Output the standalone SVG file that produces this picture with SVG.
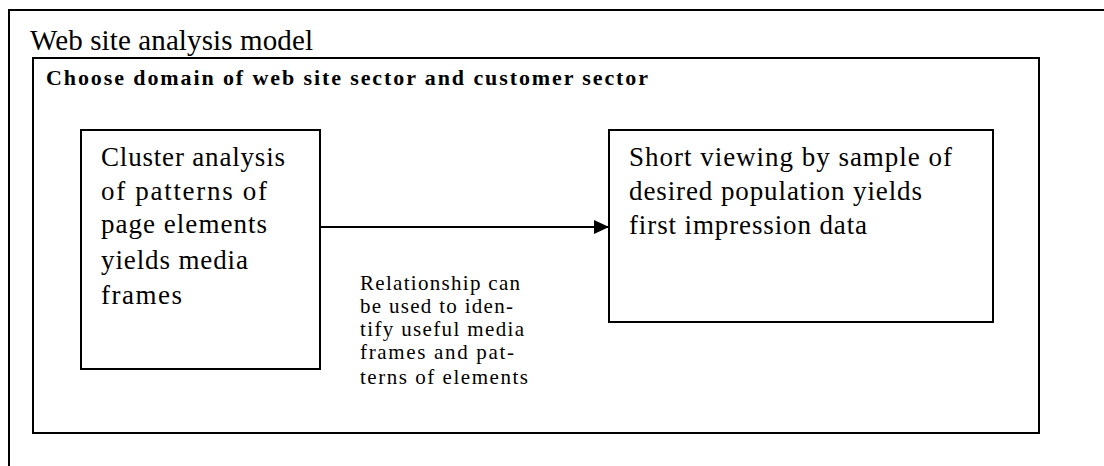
<svg xmlns="http://www.w3.org/2000/svg" width="1104" height="466" viewBox="0 0 1104 466">
<defs>
<style>
.box{fill:#fff;stroke:#000;stroke-width:2}
.frame{fill:none;stroke:#000;stroke-width:2}
.t{font-family:"Liberation Serif","Times New Roman",serif;fill:#000}
.title{font-size:29px}
.big{font-size:27px}
.lbl{font-size:21px}
.hd{font-size:22px;font-weight:bold}
.conn{stroke:#000;stroke-width:2;fill:none}
</style>
<marker id="ah" markerWidth="15" markerHeight="14" refX="15" refY="7" orient="auto" markerUnits="userSpaceOnUse">
<path d="M0,0 L15,7 L0,14 Z" fill="#000"/>
</marker>
</defs>
<rect width="1104" height="466" fill="#fff"/>
<g id="outer">
<path class="frame" d="M9,466 V10 H1104"/>
<text class="t title" x="30" y="50" textLength="283" lengthAdjust="spacing">Web site analysis model</text>
</g>
<g id="domain">
<rect class="frame" x="33" y="58" width="1006" height="375"/>
<text class="t hd" x="46" y="85" textLength="602" lengthAdjust="spacing">Choose domain of web site sector and customer sector</text>
</g>
<g id="cluster">
<rect class="box" x="81" y="130" width="239" height="239"/>
<text class="t big" x="101" y="166" textLength="184" lengthAdjust="spacing">Cluster analysis</text>
<text class="t big" x="101" y="200" textLength="166" lengthAdjust="spacing">of  patterns of</text>
<text class="t big" x="101" y="233" textLength="166" lengthAdjust="spacing">page elements</text>
<text class="t big" x="101" y="269" textLength="147" lengthAdjust="spacing">yields media</text>
<text class="t big" x="101" y="304" textLength="81" lengthAdjust="spacing">frames</text>
</g>
<g id="viewing">
<rect class="box" x="609" y="130" width="384" height="192"/>
<text class="t big" x="629" y="166" textLength="323" lengthAdjust="spacing">Short viewing by sample of</text>
<text class="t big" x="629" y="200" textLength="293" lengthAdjust="spacing">desired population yields</text>
<text class="t big" x="629" y="234" textLength="238" lengthAdjust="spacing">first impression data</text>
</g>
<g id="connectors">
<line class="conn" x1="320" y1="227" x2="609" y2="227" marker-end="url(#ah)"/>
<text class="t lbl" x="360" y="290" textLength="160" lengthAdjust="spacing">Relationship can</text>
<text class="t lbl" x="360" y="313" textLength="153" lengthAdjust="spacing">be used to iden-</text>
<text class="t lbl" x="360" y="336" textLength="164" lengthAdjust="spacing">tify useful media</text>
<text class="t lbl" x="360" y="359" textLength="154" lengthAdjust="spacing">frames and pat-</text>
<text class="t lbl" x="360" y="384" textLength="168" lengthAdjust="spacing">terns of elements</text>
</g>
</svg>
